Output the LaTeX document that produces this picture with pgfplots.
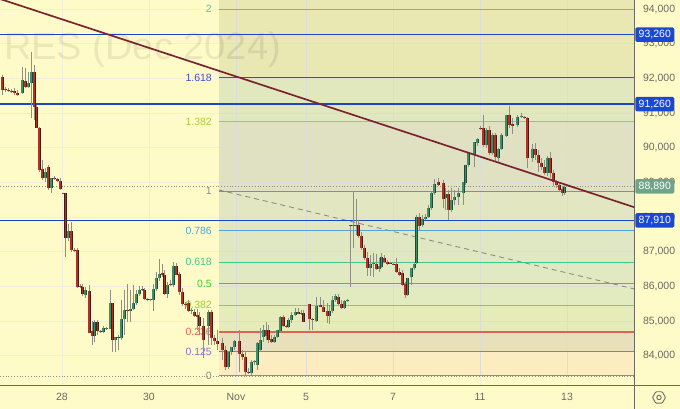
\documentclass[border=0pt]{standalone}
\usepackage{fontspec}
\setmainfont{Liberation Sans}
\usepackage{pgfplots}
\usepackage{pgfplotstable}
\pgfplotsset{compat=1.18}

\definecolor{bgc}{HTML}{FFFBC9}
\definecolor{gridc}{HTML}{F1EEDC}
\definecolor{gridb}{HTML}{DCDDD6}
\definecolor{axc}{HTML}{6B6B62}
\definecolor{tickc}{HTML}{6A6A62}
\definecolor{lineblue}{HTML}{1B47C4}
\definecolor{trend}{HTML}{7A2430}
\definecolor{upc}{HTML}{3F8F66}
\definecolor{dnc}{HTML}{B03222}
\definecolor{edgeup}{HTML}{1E4A36}
\definecolor{edgedn}{HTML}{4A1A12}
\definecolor{wick}{HTML}{8F8F86}
\definecolor{lvlA}{HTML}{4FC8A4}
\definecolor{lvlB}{HTML}{3F4FC4}
\definecolor{lvlC}{HTML}{A6CC3C}
\definecolor{lvlD}{HTML}{8E8E84}
\definecolor{lvlE}{HTML}{4FA6D8}
\definecolor{lvlF}{HTML}{3FC890}
\definecolor{lvlG}{HTML}{3FD030}
\definecolor{lvlH}{HTML}{9ACC30}
\definecolor{lvlI}{HTML}{DC6455}
\definecolor{lvlJ}{HTML}{9070D4}
\definecolor{tagblue}{HTML}{1A48D2}
\definecolor{taggreen}{HTML}{6FA488}
\definecolor{zoneA}{HTML}{E9E7B2}
\definecolor{zoneB}{HTML}{E2E8BE}
\definecolor{zoneC}{HTML}{E0E0C3}
\definecolor{zoneD}{HTML}{E2E7C2}
\definecolor{zoneE}{HTML}{DFE8C3}
\definecolor{zoneF}{HTML}{E0E9C2}
\definecolor{zoneG}{HTML}{E2EBBF}
\definecolor{zoneH}{HTML}{E6ECB9}
\definecolor{zoneI}{HTML}{E8E0BA}
\definecolor{zoneJ}{HTML}{FDECC0}

% candles, price values
\pgfplotstableread{
x o h l c
22 91580 92330 91550 91950
28 91750 92185 91720 91870
31 91870 92760 90860 92185
45 89130 89420 89015 89300
51 88840 89130 88700 89130
68 87400 87800 87300 87600
85 85760 85990 85670 85900
94.5 84580 85040 84400 84980
103 84690 84865 84660 84810
106 84780 84840 84750 84810
110 84780 85900 84780 85530
115 84460 84550 84115 84550
121 84520 85615 84460 85065
124 85065 85900 84600 85325
130 85295 85900 84980 85355
133 85355 86050 85325 85530
136 85530 85900 85470 85790
139 85790 86020 85730 85900
150 85615 85645 85585 85630
153 85615 86075 85295 85930
156 85930 86420 85870 86250
159 86250 86795 86160 86365
167 85790 86135 85670 86045
173 86045 86710 85990 86595
191 85295 85385 85210 85325
208 84865 85325 84320 85270
228 83685 84115 83625 84115
231 84115 84260 84030 84260
234 84260 84460 84170 84435
251 83510 83885 83420 83825
254 83825 83885 83740 83855
257 83740 84400 83600 84375
260 84170 84805 84115 84460
263 84550 84895 84400 84750
274 84405 84605 84375 84550
277 84550 84750 84520 84750
280 84720 85150 84690 85125
288.5 84835 85095 84810 85040
291 85040 85270 84950 85180
295 85180 85385 85155 85270
316 85010 85700 84980 85440
329 85155 85470 84920 85295
332 85295 85730 85240 85615
335 85615 85790 85555 85730
344 85385 85615 85355 85585
347 85585 85645 85555 85615
353 87745 88725 87110 87775
370 86535 86910 86305 86650
373 86650 86970 86275 86680
379 86510 86825 86420 86595
381.5 86565 86970 86535 86855
407.5 85760 86250 85730 86250
411 86275 86535 86045 86535
414 86535 86710 86480 86650
416.5 86680 88065 86650 88005
422 87775 88065 87720 87950
425 87950 88095 87920 88005
428 88005 88350 87975 88265
431 88265 88725 88210 88700
434 88700 89100 88640 88955
445.5 88555 88840 88210 88670
451 88210 88840 88150 88495
454 88495 88785 88350 88580
458 88580 88840 88350 88700
463 88700 89015 88350 89015
465.5 88985 89505 88930 89505
468 89505 89880 89445 89850
474 89790 90170 89445 90170
477 90140 90285 90055 90255
486 90080 90570 89995 90515
492 89850 90430 89790 90370
498 89705 89995 89590 89965
501 89965 90430 89935 90370
506 90340 90945 90310 90945
517 90660 90945 90600 90890
521 90890 91005 90860 90915
532 89705 90110 89590 89965
547 89275 89765 89190 89705
564.5 88700 88985 88640 88870
}\upT

\pgfplotstableread{
x o h l c
2 92040 92100 91520 91670
5 91700 91750 91610 91670
8 91670 91730 91610 91640
11 91640 91700 91580 91610
14 91640 91720 91520 91580
17 91580 91670 91490 91520
25 91930 92300 91720 91750
34 92185 92390 90800 91180
36.5 91180 91235 90570 90570
39 90570 90600 89300 89360
42 89390 89650 89070 89130
48 89450 89505 88780 88840
54 89130 89190 89070 89100
57 89100 89130 89015 89045
60 89045 89130 88780 88810
63 88700 88700 88670 88670
65.5 88700 88700 86850 87400
71 87600 87860 87000 87055
74 87055 87110 87000 87030
77 87055 87110 85960 85990
80 86020 86075 85960 85990
82.5 85990 86075 85730 85790
89 85870 86050 84660 84660
92 84720 85010 84320 84580
97.5 84980 85040 84605 84720
100 84720 84750 84660 84690
112.5 85530 85530 84115 84460
118 84550 84605 84170 84520
127 85325 86075 84980 85295
142 85930 86020 85870 85900
144 85900 85960 85615 85645
147 85645 85675 85585 85615
162 86395 86650 86275 86335
164.5 86335 86480 85760 85790
170 86075 86190 86015 86045
176 86595 86680 86335 86335
179 86365 86420 85760 85845
182 85845 85960 85440 85500
185 85500 85555 85355 85470
188 85530 85615 85270 85295
194 85270 85355 85125 85155
197 85180 85355 84750 85125
199.5 85125 85270 84605 84865
203 84865 85095 83940 84460
211 85270 85325 84320 84520
214 84520 84605 84320 84435
217 84435 84750 84170 84345
222 84375 84520 83885 84170
225 84170 84290 83595 83685
239 84435 84750 83540 84060
242 84060 84170 83885 83970
245 83970 84115 83450 83540
248 83540 83655 83480 83510
266 84750 84980 84460 84580
268.5 84750 84895 84375 84460
271 84490 84605 84375 84405
283 85125 85180 84835 84865
286 84865 84895 84810 84835
298 85270 85385 85210 85210
301 85240 85325 85180 85210
303.5 85240 85325 84980 84980
309 85500 85500 84750 85065
312 85065 85095 84750 85040
320 85470 85700 85410 85410
323 85410 85615 85270 85270
327 85295 85530 84950 85155
338 85700 85790 85470 85500
341 85500 85615 85355 85385
350 87775 87775 85990 87745
356 87775 88525 87490 87745
358.5 87775 87920 87400 87460
361 87460 87575 87055 87115
364 87115 87200 86770 86825
367 86825 86995 86305 86535
376 86650 86940 86480 86510
384 86825 86910 86680 86710
387 86710 86770 86625 86650
390 86680 86710 86650 86650
393 86650 86680 86620 86620
396 86650 86825 86395 86420
399 86420 86535 86305 86335
402 86395 86480 86015 86045
405 86075 86135 85670 85760
419 88005 88120 87630 87745
438 89015 89130 88900 88930
443 88985 89070 88265 88525
448 88670 88785 87920 88210
480 90570 90630 90515 90540
483 90570 90945 90025 90080
489 90515 90630 89790 89850
495 90370 90430 89590 89735
509 90945 91205 90570 90660
512 90685 90860 90400 90630
524 90890 90915 90830 90860
527 90860 90890 89420 89705
535 89965 90140 89650 89790
538 89790 89935 89300 89560
541 89560 89705 89360 89445
544 89445 89650 89215 89275
550 89705 89880 89130 89275
553 89275 89360 88900 89015
556 89015 89070 88840 88930
559 88930 88985 88725 88785
562 88815 88900 88610 88700
}\dnT

\pgfplotsset{
  wicks/.style={draw=none, mark=none, forget plot,
    error bars/.cd, y dir=both, y explicit, error mark=none,
    error bar style={draw=wick, line width=0.8pt}},
  bodyup/.style 2 args={draw=none, mark=none, forget plot,
    error bars/.cd, y dir=plus, y explicit, error mark=none,
    error bar style={draw=#1, line width=#2}},
  bodydn/.style 2 args={draw=none, mark=none, forget plot,
    error bars/.cd, y dir=minus, y explicit, error mark=none,
    error bar style={draw=#1, line width=#2}},
  band/.style={draw=none, fill=#1, forget plot},
  lvl/.style={draw=#1, line width=1pt, forget plot},
}
\tikzset{
  flabel/.style={anchor=east, inner sep=0pt, font=\fontsize{10.5}{12}\selectfont, text=#1},
  tag/.style={anchor=west, fill=#1, text=white, rounded corners=1.5pt, inner sep=0pt,
    minimum width=39pt, minimum height=14.5pt, xshift=0.6pt, font=\fontsize{10.5}{12}\selectfont},
}

\begin{document}
\begin{tikzpicture}[x=1pt,y=1pt]
\useasboundingbox (0,0) rectangle (680,409);
\fill[bgc] (0,0) rectangle (680,409);
\begin{axis}[
  at={(0pt,24pt)}, anchor=south west,
  scale only axis, width=634.5pt, height=385pt,
  xmin=0, xmax=634.5, ymin=83164, ymax=94260,
  axis line style={draw=none},
  major tick length=0pt,
  grid=major,
  major grid style={draw=gridc, line width=1pt},
  xtick={62,149,236,306,393,480,567},
  xticklabels={28,30,Nov,5,7,11,13},
  ytick={84000,85000,86000,87000,88000,89000,90000,91000,92000,93000,94000},
  yticklabel pos=right,
  scaled y ticks=false,
  /pgf/number format/assume math mode=true,
  /pgf/number format/.cd, fixed, 1000 sep={,}, /pgfplots/.cd,
  ticklabel style={font=\fontsize{10.5}{12}\selectfont, text=tickc},
  yticklabel style={anchor=west, xshift=5pt},
  xticklabel style={anchor=center, yshift=-12pt},
  clip=true,
]
% fib zones
\addplot[band=zoneA] coordinates {(219,94260)(634.5,94260)(634.5,92012)(219,92012)} -- cycle;
\addplot[band=zoneB] coordinates {(219,92012)(634.5,92012)(634.5,90758)(219,90758)} -- cycle;
\addplot[band=zoneC] coordinates {(219,90758)(634.5,90758)(634.5,88755)(219,88755)} -- cycle;
\addplot[band=zoneD] coordinates {(219,88755)(634.5,88755)(634.5,87603)(219,87603)} -- cycle;
\addplot[band=zoneE] coordinates {(219,87603)(634.5,87603)(634.5,86700)(219,86700)} -- cycle;
\addplot[band=zoneF] coordinates {(219,86700)(634.5,86700)(634.5,86084)(219,86084)} -- cycle;
\addplot[band=zoneG] coordinates {(219,86084)(634.5,86084)(634.5,85461)(219,85461)} -- cycle;
\addplot[band=zoneH] coordinates {(219,85461)(634.5,85461)(634.5,84692)(219,84692)} -- cycle;
\addplot[band=zoneI] coordinates {(219,84692)(634.5,84692)(634.5,84115)(219,84115)} -- cycle;
\addplot[band=zoneJ] coordinates {(219,84115)(634.5,84115)(634.5,83432)(219,83432)} -- cycle;
% grid seen through the zones
\pgfplotsinvokeforeach{85000,86000,87000,88000,89000,90000,91000,92000,93000,94000}{
  \addplot[draw=gridb, line width=1pt, forget plot] coordinates {(219,#1)(634.5,#1)};
}
\addplot[draw=gridc!60!zoneJ, line width=1pt, forget plot] coordinates {(219,84000)(634.5,84000)};
\pgfplotsinvokeforeach{236,306,393,480,567}{
  \addplot[draw=gridb, line width=1pt, forget plot] coordinates {(#1,83432)(#1,94260)};
}
% fib levels
\addplot[lvl=lvlA] coordinates {(219,94000)(634.5,94000)};
\addplot[lvl=lvlB] coordinates {(219,92012)(634.5,92012)};
\addplot[lvl=lvlC] coordinates {(219,90758)(634.5,90758)};
\addplot[lvl=lvlD] coordinates {(219,88755)(634.5,88755)};
\addplot[lvl=lvlE] coordinates {(219,87603)(634.5,87603)};
\addplot[lvl=lvlF] coordinates {(219,86700)(634.5,86700)};
\addplot[lvl=lvlG] coordinates {(219,86084)(634.5,86084)};
\addplot[lvl=lvlH] coordinates {(219,85461)(634.5,85461)};
\addplot[draw=lvlI, line width=1.3pt, forget plot] coordinates {(219,84692)(634.5,84692)};
\addplot[lvl=lvlJ] coordinates {(219,84115)(634.5,84115)};
\addplot[draw=lvlD, line width=1.2pt, forget plot] coordinates {(219,83432)(634.5,83432)};
% price and zero dotted
\addplot[draw=lvlD, dotted, line width=0.8pt, forget plot] coordinates {(0,88890)(634.5,88890)};
\addplot[draw=lvlD, dotted, line width=0.8pt, forget plot] coordinates {(0,83410)(634.5,83410)};
% dashed fan line
\addplot[draw=lvlD, line width=0.9pt, dash pattern=on 5pt off 4pt, forget plot] coordinates {(219,88784)(634.5,85931)};
% labels
\node[flabel=lvlA] at (axis cs:212,94000) {2};
\node[flabel=lvlB] at (axis cs:212,92012) {1.618};
\node[flabel=lvlC] at (axis cs:212,90758) {1.382};
\node[flabel=lvlD] at (axis cs:212,88755) {1};
\node[flabel=lvlE] at (axis cs:212,87603) {0.786};
\node[flabel=lvlF] at (axis cs:212,86700) {0.618};
\node[flabel=lvlG] at (axis cs:212,86084) {0.5};
\node[flabel=lvlH] at (axis cs:212,85461) {0.382};
\node[flabel=lvlI] at (axis cs:212,84692) {0.236};
\node[flabel=lvlJ] at (axis cs:212,84115) {0.125};
\node[flabel=lvlD] at (axis cs:212,83432) {0};
% watermark
\node[anchor=west, font=\fontsize{38}{40}\selectfont, text=black, text opacity=0.08, inner sep=0pt] at (axis cs:4,92840) {RES (Dec 2024)};
% blue lines
\addplot[draw=lineblue, line width=1.5pt, forget plot] coordinates {(0,93260)(634.5,93260)};
\addplot[draw=lineblue, line width=1.5pt, forget plot] coordinates {(0,91260)(634.5,91260)};
\addplot[draw=lineblue, line width=1.5pt, forget plot] coordinates {(0,87910)(634.5,87910)};
% candles
\addplot[wicks] table[x=x, y=o, y error plus expr=\thisrow{h}-\thisrow{o}, y error minus expr=\thisrow{o}-\thisrow{l}] {\upT};
\addplot[wicks] table[x=x, y=o, y error plus expr=\thisrow{h}-\thisrow{o}, y error minus expr=\thisrow{o}-\thisrow{l}] {\dnT};
\addplot[bodyup={edgeup}{3pt}] table[x=x, y=o, y error plus expr=\thisrow{c}-\thisrow{o}] {\upT};
\addplot[bodyup={upc}{1.8pt}] table[x=x, y=o, y error plus expr=\thisrow{c}-\thisrow{o}] {\upT};
\addplot[bodydn={edgedn}{3pt}] table[x=x, y=o, y error minus expr=\thisrow{o}-\thisrow{c}] {\dnT};
\addplot[bodydn={dnc}{1.8pt}] table[x=x, y=o, y error minus expr=\thisrow{o}-\thisrow{c}] {\dnT};
% trend line
\addplot[draw=trend, line width=1.7pt, forget plot] coordinates {(0,94290)(634.5,88285)};
\coordinate (tagA) at (axis cs:634.5,93260);
\coordinate (tagB) at (axis cs:634.5,91260);
\coordinate (tagC) at (axis cs:634.5,87910);
\coordinate (tagD) at (axis cs:634.5,88890);
\end{axis}
\draw[axc, line width=0.9pt] (0,24) -- (680,24);
\draw[axc, line width=0.9pt] (634.5,0) -- (634.5,409);
\node[tag=taggreen] at (tagD) {88,890};
\node[tag=tagblue] at (tagA) {93,260};
\node[tag=tagblue] at (tagB) {91,260};
\node[tag=tagblue] at (tagC) {87,910};
% settings icon
\draw[tickc, line width=0.9pt, rounded corners=0.8pt] (652.5,11.5) -- (655.8,5.8) -- (662.2,5.8) -- (665.5,11.5) -- (662.2,17.2) -- (655.8,17.2) -- cycle;
\draw[tickc, line width=0.9pt] (659,11.5) circle (2.2);
\end{tikzpicture}
\end{document}
